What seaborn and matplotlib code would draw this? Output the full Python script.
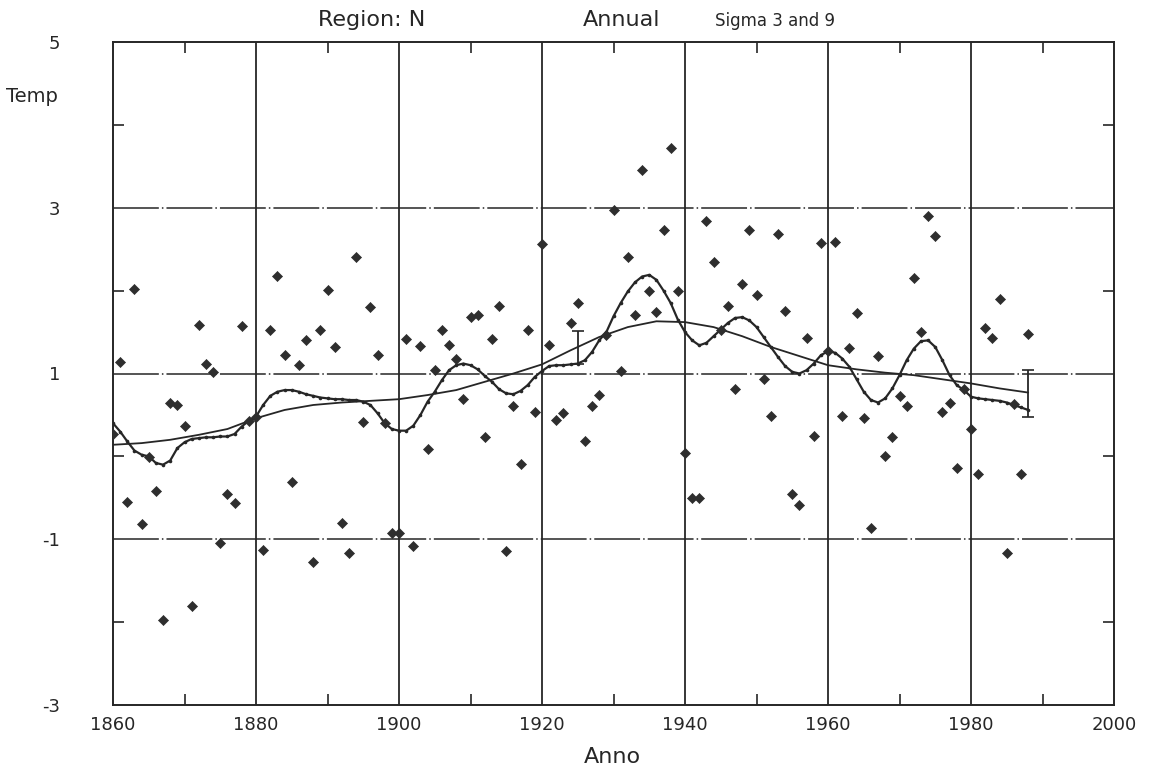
import numpy as np
import pandas as pd
import matplotlib.pyplot as plt
import matplotlib.ticker as mtick
import seaborn as sns

# annual anomalies, 1860-1988
years = list(range(1860, 1989))
temp = [
    0.27, 1.14, -0.55, 2.02, -0.81, -0.01, -0.42, -1.97, 0.64, 0.62,   # 1860s
    0.37, -1.80, 1.59, 1.12, 1.02, -1.04, -0.45, -0.56, 1.57, 0.43,    # 1870s
    0.47, -1.13, 1.53, 2.18, 1.22, -0.31, 1.10, 1.40, -1.28, 1.52,     # 1880s
    2.01, 1.32, -0.80, -1.16, 2.41, 0.41, 1.80, 1.22, 0.40, -0.93,     # 1890s
    -0.93, 1.42, -1.08, 1.33, 0.09, 1.04, 1.52, 1.34, 1.18, 0.69,      # 1900s
    1.68, 1.70, 0.23, 1.42, 1.82, -1.14, 0.61, -0.09, 1.52, 0.53,      # 1910s
    2.56, 1.34, 0.44, 0.52, 1.61, 1.85, 0.19, 0.61, 0.74, 1.47,        # 1920s
    2.97, 1.03, 2.40, 1.71, 3.45, 1.99, 1.74, 2.73, 3.72, 1.99,        # 1930s
    0.04, -0.50, -0.50, 2.84, 2.34, 1.53, 1.81, 0.81, 2.08, 2.73,      # 1940s
    1.95, 0.93, 0.49, 2.68, 1.75, -0.45, -0.59, 1.43, 0.25, 2.57,      # 1950s
    1.27, 2.59, 0.49, 1.31, 1.73, 0.46, -0.87, 1.21, 0.01, 0.23,       # 1960s
    0.73, 0.61, 2.15, 1.50, 2.90, 2.66, 0.53, 0.65, -0.14, 0.81,       # 1970s
    0.33, -0.21, 1.55, 1.43, 1.90, -1.17, 0.63, -0.21, 1.48,           # 1980s
]

# sigma 3 smoothing, one value per year
sigma3 = [
    0.40, 0.30, 0.18, 0.07, 0.02, 0.00, -0.08, -0.10, -0.05, 0.10,
    0.17, 0.21, 0.22, 0.23, 0.23, 0.24, 0.24, 0.27, 0.36, 0.43,
    0.48, 0.62, 0.73, 0.78, 0.80, 0.80, 0.78, 0.75, 0.73, 0.71,
    0.70, 0.69, 0.69, 0.68, 0.68, 0.66, 0.62, 0.52, 0.40, 0.33,
    0.31, 0.31, 0.37, 0.50, 0.66, 0.78, 0.92, 1.04, 1.10, 1.12,
    1.10, 1.05, 0.97, 0.90, 0.81, 0.76, 0.75, 0.79, 0.86, 0.96,
    1.03, 1.09, 1.10, 1.10, 1.11, 1.12, 1.16, 1.26, 1.40, 1.50,
    1.69, 1.85, 1.99, 2.10, 2.17, 2.19, 2.13, 2.00, 1.85, 1.65,
    1.50, 1.40, 1.34, 1.37, 1.45, 1.53, 1.61, 1.67, 1.68, 1.64,
    1.56, 1.44, 1.32, 1.20, 1.09, 1.02, 1.00, 1.04, 1.12, 1.22,
    1.27, 1.25, 1.18, 1.08, 0.93, 0.78, 0.68, 0.65, 0.70, 0.82,
    0.98, 1.16, 1.30, 1.39, 1.40, 1.32, 1.16, 0.98, 0.86, 0.80,
    0.72, 0.70, 0.69, 0.68, 0.67, 0.65, 0.62, 0.59, 0.56,
]

# sigma 9 smoothing, read every 4 years
s9_years = list(range(1860, 1989, 4))
sigma9 = [
    0.14, 0.16, 0.20, 0.26, 0.33, 0.46, 0.56, 0.62, 0.65, 0.67,
    0.69, 0.74, 0.80, 0.90, 1.00, 1.11, 1.28, 1.44, 1.56, 1.63,
    1.62, 1.56, 1.45, 1.32, 1.21, 1.10, 1.05, 1.01, 0.98, 0.93,
    0.88, 0.82, 0.77,
]

# error bars
err_years = [1925, 1988]
err_lo = [1.11, 0.47]
err_hi = [1.51, 1.04]

INK = "#262626"

sns.set_theme(style="white")
plt.rcParams.update({
    "font.family": ["DejaVu Sans"],
    "axes.edgecolor": INK,
    "axes.linewidth": 1.4,
    "text.color": INK,
    "xtick.color": INK,
    "ytick.color": INK,
})

df = pd.DataFrame({"year": years, "temp": temp, "sigma3": sigma3})
s9 = pd.DataFrame({"year": s9_years, "sigma9": sigma9})

fig = plt.figure(figsize=(11.57, 7.70), dpi=100)
ax = fig.add_axes([113 / 1157, 1 - 705 / 770, (1114 - 113) / 1157, (705 - 42) / 770])

# grid: solid verticals every 20 yrs, long-dash horizontals
for gx in range(1880, 2000, 20):
    ax.axvline(gx, color=INK, linewidth=1.3, zorder=1)
for gy in [3, 1, -1]:
    ax.axhline(gy, color=INK, linewidth=1.1, dashes=(30, 2, 1, 2), zorder=1)

sns.lineplot(data=s9, x="year", y="sigma9", ax=ax, color=INK, linewidth=1.3, zorder=3)
sns.lineplot(data=df, x="year", y="sigma3", ax=ax, color=INK, linewidth=1.6,
             marker="o", markersize=2.6, markeredgewidth=0, zorder=4)
sns.scatterplot(data=df, x="year", y="temp", ax=ax, marker="D", s=26,
                color="#2e2e2e", edgecolor="#2e2e2e", linewidth=0.5, zorder=5)

lo = np.array(err_lo)
hi = np.array(err_hi)
mid = (hi + lo) / 2
half = (hi - lo) / 2
ax.errorbar(err_years, mid, yerr=[half, half], fmt="none", ecolor=INK,
            elinewidth=1.3, capsize=4, capthick=1.2, zorder=4)

ax.set_xlim(1860, 2000)
ax.set_ylim(-3, 5)
ax.set_xlabel("")
ax.set_ylabel("")

ax.xaxis.set_major_locator(mtick.MultipleLocator(20))
ax.xaxis.set_minor_locator(mtick.MultipleLocator(10))
ax.yaxis.set_minor_locator(mtick.MultipleLocator(2))
ax.set_yticks([-3, -1, 1, 3, 5])
ax.yaxis.set_major_formatter(mtick.FuncFormatter(lambda v, _: f"{v:.0f}"))

ax.tick_params(axis="both", which="major", length=0, labelsize=13)
ax.tick_params(axis="x", which="major", pad=8)
ax.tick_params(axis="y", which="major", pad=38)
ax.tick_params(axis="both", which="minor", direction="in", length=8, width=1.2,
               top=True, bottom=True, left=True, right=True)

for s in ax.spines.values():
    s.set_visible(True)

# titles and labels
fig.text(318 / 1157, 1 - 20 / 770, "Region: N", fontsize=16, va="center", ha="left")
fig.text(583 / 1157, 1 - 20 / 770, "Annual", fontsize=16, va="center", ha="left")
fig.text(715 / 1157, 1 - 21 / 770, "Sigma 3 and 9", fontsize=12, va="center", ha="left")
fig.text(6 / 1157, 1 - 97 / 770, "Temp", fontsize=14, va="center", ha="left")
fig.text(612 / 1157, 1 - 757 / 770, "Anno", fontsize=16, va="center", ha="center")

plt.savefig("out.png", dpi=100)
